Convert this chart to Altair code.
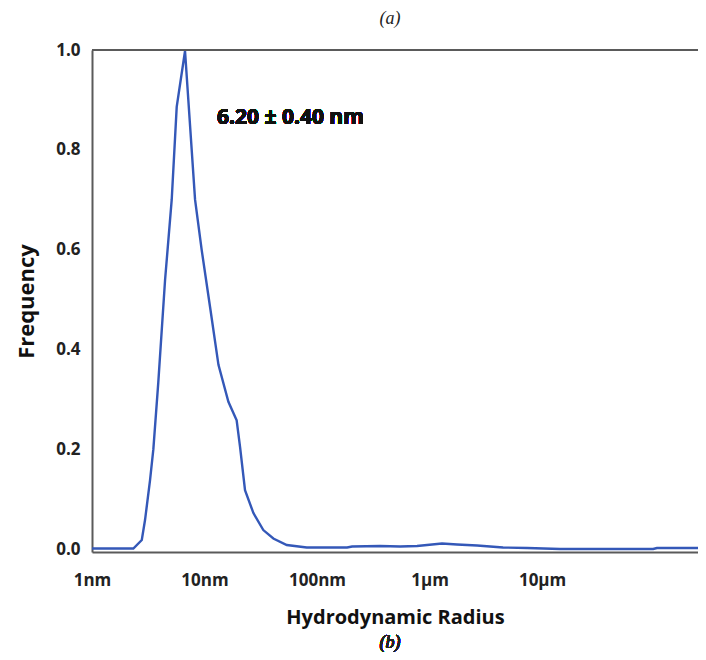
import altair as alt
import pandas as pd

# Hydrodynamic radius (nm) and frequency
radius_nm = [1.0, 2.33, 2.77, 2.96, 3.28, 3.51, 3.88, 4.46, 5.11, 5.66, 6.71,
             8.24, 9.44, 11.2, 13.3, 16.3, 19.3, 20.7, 22.9, 27.2, 33.3, 40.9,
             53.8, 81, 130, 185, 205, 363, 547, 774, 1290, 1755, 2645, 3450,
             4500, 7360, 14450, 97000, 105000, 243000]
frequency = [0.001, 0.001, 0.018, 0.058, 0.138, 0.20, 0.333, 0.539, 0.70, 0.886, 0.998,
             0.70, 0.599, 0.485, 0.369, 0.295, 0.258, 0.204, 0.118, 0.072, 0.038, 0.021,
             0.008, 0.003, 0.003, 0.003, 0.005, 0.006, 0.005, 0.006, 0.011, 0.009, 0.007, 0.005,
             0.003, 0.002, 0.0, 0.0, 0.002, 0.002]

tick_values = [1, 10, 100, 1000, 10000]
tick_labels = ["1nm", "10nm", "100nm", "1µm", "10µm"]
annotation = "6.20 ± 0.40 nm"

df = pd.DataFrame({"r": radius_nm, "f": frequency})

W, H = 606, 502
FONT = "Open Sans"

label_expr = " : ".join(
    [f"datum.value == {v} ? '{l}'" for v, l in zip(tick_values, tick_labels)]
) + " : ''"

x = alt.X("r:Q",
          scale=alt.Scale(type="log", domain=[1, 243000], nice=False),
          axis=alt.Axis(values=tick_values, labelExpr=label_expr,
                        title="Hydrodynamic Radius", grid=False, ticks=False,
                        tickSize=0, labelPadding=20, titlePadding=19,
                        labelFontSize=17, titleFontSize=20, labelFlush=False))
y = alt.Y("f:Q",
          scale=alt.Scale(domain=[-0.006, 1.0], nice=False, zero=False),
          axis=alt.Axis(values=[0, 0.2, 0.4, 0.6, 0.8, 1.0], format=".1f",
                        title="Frequency", grid=False, ticks=False, tickSize=0,
                        labelPadding=12, titlePadding=17,
                        labelFontSize=17, titleFontSize=22))

line = alt.Chart(df).mark_line(color="#3458b8", strokeWidth=2.4).encode(x=x, y=y)

top_rule = alt.Chart(df).mark_rule(color="#5a5a5a", strokeWidth=2).encode(
    y=alt.datum(1.0), x=alt.value(0), x2=alt.value(W + 8))

note = alt.Chart(df).mark_text(
    text=annotation, align="left", baseline="middle", font=FONT,
    fontWeight="bold", fontSize=21, color="#111111").encode(
    x=alt.datum(12.9), y=alt.datum(0.864))

b_label = alt.Chart(df).mark_text(
    text="(b)", font="Liberation Serif", fontStyle="italic", fontWeight="normal",
    fontSize=18, color="#222222", baseline="middle").encode(
    x=alt.value(W / 2 - 5), y=alt.value(H + 91))

chart = alt.layer(line, top_rule, note, b_label).properties(
    width=W, height=H,
    title=alt.TitleParams("(a)", font="Liberation Serif", fontStyle="italic",
                          fontSize=18, fontWeight="normal", color="#222222",
                          offset=13, dx=-5),
    padding={"left": 84, "top": 42, "right": 0, "bottom": 100},
    autosize=alt.AutoSizeParams(type="none"),
).configure_axis(
    domainColor="#5a5a5a", domainWidth=2, labelFont=FONT, titleFont=FONT,
    labelFontWeight="bold", titleFontWeight="bold",
    labelColor="#222222", titleColor="#111111",
).configure_view(stroke=None)

chart.save("out.html", embed_options={"renderer": "svg", "actions": False})
